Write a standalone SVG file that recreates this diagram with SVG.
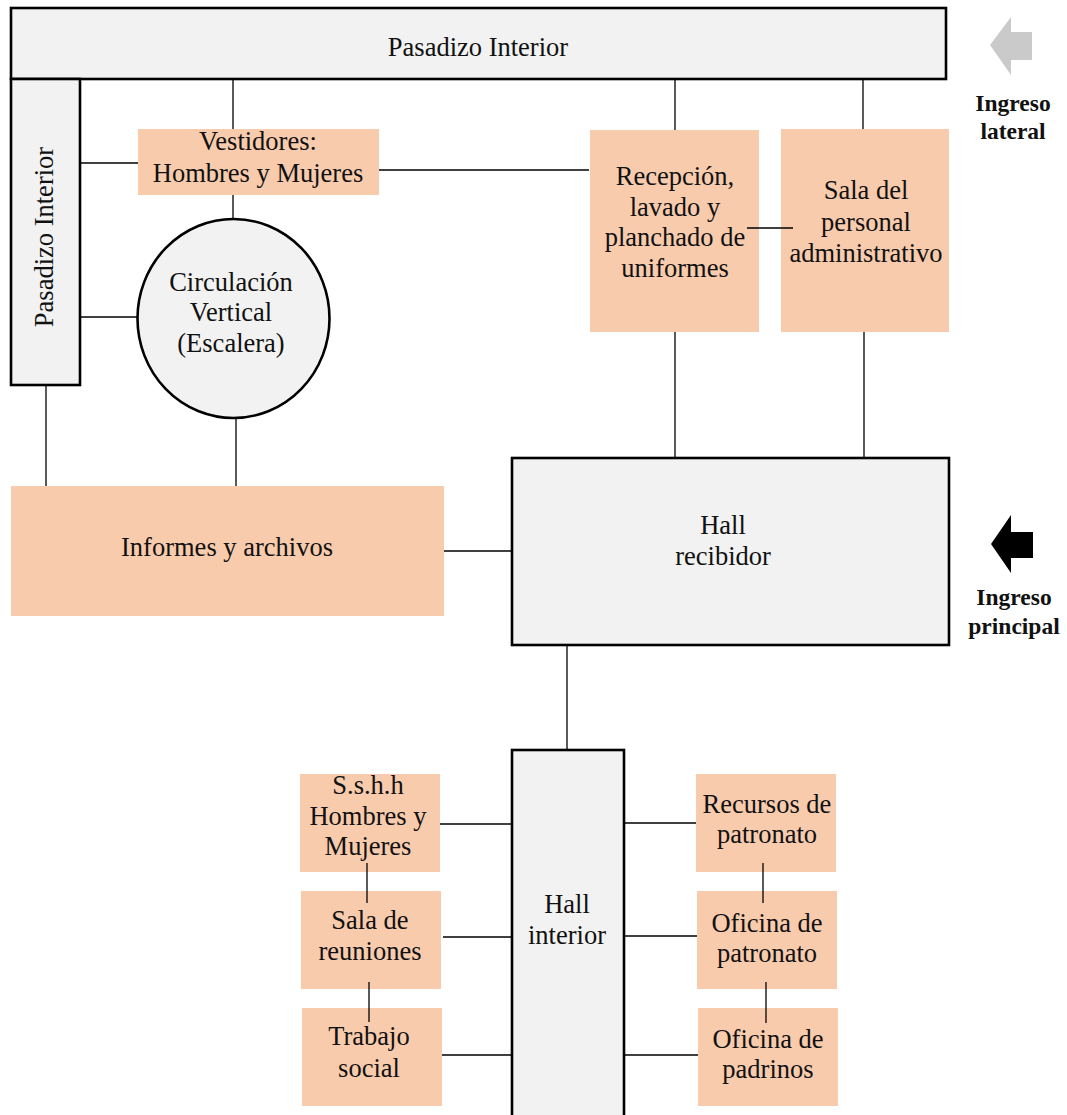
<svg xmlns="http://www.w3.org/2000/svg" width="1067" height="1115" viewBox="0 0 1067 1115">
  <style>
    .room { fill: #F8CBAD; stroke: none; }
    .hall { fill: #F2F2F2; stroke: #000; stroke-width: 2.6; }
    .lbl { font-family: "Liberation Serif", "Times New Roman", serif; font-size: 26.5px; fill: #111; text-anchor: middle; }
    .ing { font-family: "Liberation Serif", "Times New Roman", serif; font-size: 23.5px; font-weight: bold; fill: #111; text-anchor: middle; }
    .wire { stroke: #000; stroke-width: 1.3; fill: none; }
  </style>
  <rect width="1067" height="1115" fill="#fff"/>

  <!-- corridors and halls -->
  <g id="pasadizo-superior">
    <rect class="hall" x="11" y="8" width="935" height="71"/>
    <text class="lbl" x="478" y="56">Pasadizo Interior</text>
  </g>
  <g id="pasadizo-lateral">
    <rect class="hall" x="11" y="79" width="69" height="306"/>
    <text class="lbl" transform="translate(53 237) rotate(-90)">Pasadizo Interior</text>
  </g>
  <g id="vestidores">
    <rect class="room" x="138" y="129" width="241" height="66"/>
    <text class="lbl" x="258" y="150">Vestidores:</text>
    <text class="lbl" x="258" y="182">Hombres y Mujeres</text>
  </g>
  <g id="circulacion-vertical">
    <ellipse class="hall" cx="233.5" cy="318.5" rx="96" ry="99.5"/>
    <text class="lbl" x="231" y="291">Circulación</text>
    <text class="lbl" x="231" y="321">Vertical</text>
    <text class="lbl" x="231" y="352">(Escalera)</text>
  </g>
  <g id="recepcion">
    <rect class="room" x="590" y="130" width="169" height="202"/>
    <text class="lbl" x="675" y="185">Recepción,</text>
    <text class="lbl" x="675" y="216">lavado y</text>
    <text class="lbl" x="675" y="246">planchado de</text>
    <text class="lbl" x="675" y="277">uniformes</text>
  </g>
  <g id="sala-personal">
    <rect class="room" x="781" y="129" width="168" height="203"/>
    <text class="lbl" x="866" y="199">Sala del</text>
    <text class="lbl" x="866" y="231">personal</text>
    <text class="lbl" x="866" y="262" textLength="153" lengthAdjust="spacing">administrativo</text>
  </g>
  <g id="informes">
    <rect class="room" x="11" y="486" width="433" height="130"/>
    <text class="lbl" x="227" y="556">Informes y archivos</text>
  </g>
  <g id="hall-recibidor">
    <rect class="hall" x="512" y="458" width="437" height="187"/>
    <text class="lbl" x="723" y="534">Hall</text>
    <text class="lbl" x="723" y="565">recibidor</text>
  </g>
  <g id="hall-interior">
    <rect class="hall" x="512" y="750" width="112" height="380"/>
    <text class="lbl" x="567" y="913">Hall</text>
    <text class="lbl" x="567" y="944">interior</text>
  </g>
  <g id="sshh">
    <rect class="room" x="300" y="774" width="140" height="98"/>
    <text class="lbl" x="368" y="794">S.s.h.h</text>
    <text class="lbl" x="368" y="825">Hombres y</text>
    <text class="lbl" x="368" y="855">Mujeres</text>
  </g>
  <g id="sala-reuniones">
    <rect class="room" x="301" y="891" width="140" height="98"/>
    <text class="lbl" x="370" y="929">Sala de</text>
    <text class="lbl" x="370" y="960">reuniones</text>
  </g>
  <g id="trabajo-social">
    <rect class="room" x="302" y="1008" width="140" height="98"/>
    <text class="lbl" x="369" y="1045">Trabajo</text>
    <text class="lbl" x="369" y="1077">social</text>
  </g>
  <g id="recursos-patronato">
    <rect class="room" x="696" y="774" width="140" height="98"/>
    <text class="lbl" x="767" y="813">Recursos de</text>
    <text class="lbl" x="767" y="843">patronato</text>
  </g>
  <g id="oficina-patronato">
    <rect class="room" x="697" y="891" width="140" height="98"/>
    <text class="lbl" x="767" y="932">Oficina de</text>
    <text class="lbl" x="767" y="962">patronato</text>
  </g>
  <g id="oficina-padrinos">
    <rect class="room" x="698" y="1008" width="140" height="98"/>
    <text class="lbl" x="768" y="1048">Oficina de</text>
    <text class="lbl" x="768" y="1078">padrinos</text>
  </g>

  <!-- entrances -->
  <g id="ingreso-lateral">
    <polygon points="990,45 1011,17 1011,32 1032,32 1032,60 1011,60 1011,75" fill="#CACACA"/>
    <text class="ing" x="1013" y="111">Ingreso</text>
    <text class="ing" x="1013" y="139">lateral</text>
  </g>
  <g id="ingreso-principal">
    <polygon points="991,544 1011,515 1011,532 1033,532 1033,558 1011,558 1011,573" fill="#000"/>
    <text class="ing" x="1014" y="605">Ingreso</text>
    <text class="ing" x="1014" y="634">principal</text>
  </g>

  <!-- connections between spaces -->
  <g id="connectors">
    <line class="wire" x1="233" y1="80" x2="233" y2="129"/>
    <line class="wire" x1="675" y1="80" x2="675" y2="130"/>
    <line class="wire" x1="863" y1="80" x2="863" y2="129"/>
    <line class="wire" x1="81" y1="163" x2="138" y2="163"/>
    <line class="wire" x1="379" y1="170" x2="589" y2="170"/>
    <line class="wire" x1="747" y1="228" x2="793" y2="228"/>
    <line class="wire" x1="233" y1="195" x2="233" y2="219"/>
    <line class="wire" x1="81" y1="317" x2="138" y2="317"/>
    <line class="wire" x1="46" y1="386" x2="46" y2="486"/>
    <line class="wire" x1="236" y1="418" x2="236" y2="486"/>
    <line class="wire" x1="675" y1="332" x2="675" y2="458"/>
    <line class="wire" x1="864" y1="332" x2="864" y2="458"/>
    <line class="wire" x1="444" y1="551" x2="512" y2="551"/>
    <line class="wire" x1="567" y1="646" x2="567" y2="750"/>
    <line class="wire" x1="440" y1="824" x2="512" y2="824"/>
    <line class="wire" x1="443" y1="937" x2="512" y2="937"/>
    <line class="wire" x1="442" y1="1055" x2="512" y2="1055"/>
    <line class="wire" x1="367" y1="863" x2="367" y2="903"/>
    <line class="wire" x1="369" y1="982" x2="369" y2="1022"/>
    <line class="wire" x1="624" y1="823" x2="696" y2="823"/>
    <line class="wire" x1="625" y1="936" x2="697" y2="936"/>
    <line class="wire" x1="624" y1="1055" x2="698" y2="1055"/>
    <line class="wire" x1="763" y1="863" x2="763" y2="903"/>
    <line class="wire" x1="766" y1="982" x2="766" y2="1023"/>
  </g>
</svg>
